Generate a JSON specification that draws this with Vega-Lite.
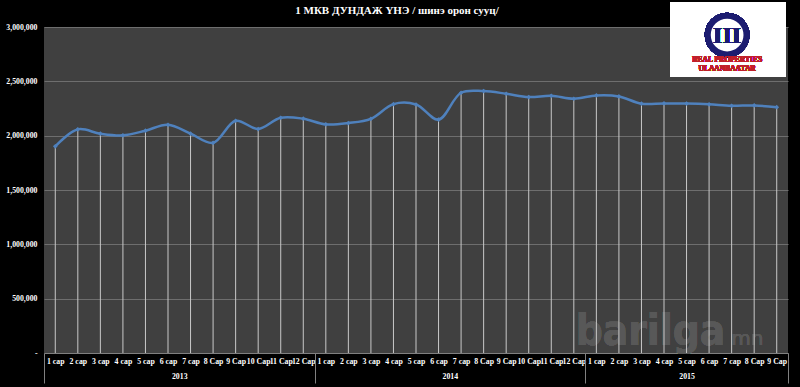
{
  "$schema": "https://vega.github.io/schema/vega-lite/v6.json",
  "width": 744,
  "height": 326,
  "autosize": {"type": "none"},
  "padding": {"left": 44, "top": 27, "right": 12, "bottom": 34},
  "background": "#000000",
  "title": {
    "text": "1 МКВ ДУНДАЖ ҮНЭ / шинэ орон сууц/",
    "font": "Liberation Serif",
    "fontSize": 11,
    "fontWeight": "bold",
    "color": "#ffffff",
    "anchor": "middle",
    "frame": "group",
    "dx": -19,
    "dy": 24,
    "offset": 10
  },
  "config": {
    "view": {"fill": "#404040", "stroke": null},
    "axis": {"labelFont": "Liberation Serif", "labelFontWeight": "bold", "labelColor": "#ffffff", "labelFontSize": 7.8, "title": null}
  },
  "data": {
    "values": [
      {"pos": 0.5, "month": "1 сар", "year": "2013", "value": 1902000},
      {"pos": 1.5, "month": "2 сар", "year": "2013", "value": 2058000},
      {"pos": 2.5, "month": "3 сар", "year": "2013", "value": 2018000},
      {"pos": 3.5, "month": "4 сар", "year": "2013", "value": 2003000},
      {"pos": 4.5, "month": "5 сар", "year": "2013", "value": 2046000},
      {"pos": 5.5, "month": "6 сар", "year": "2013", "value": 2100000},
      {"pos": 6.5, "month": "7 сар", "year": "2013", "value": 2018000},
      {"pos": 7.5, "month": "8 Сар", "year": "2013", "value": 1934000},
      {"pos": 8.5, "month": "9 Сар", "year": "2013", "value": 2137000},
      {"pos": 9.5, "month": "10 Сар", "year": "2013", "value": 2061000},
      {"pos": 10.5, "month": "11 Сар", "year": "2013", "value": 2165000},
      {"pos": 11.5, "month": "12 Сар", "year": "2013", "value": 2156000},
      {"pos": 12.5, "month": "1 сар", "year": "2014", "value": 2104000},
      {"pos": 13.5, "month": "2 сар", "year": "2014", "value": 2116000},
      {"pos": 14.5, "month": "3 сар", "year": "2014", "value": 2155000},
      {"pos": 15.5, "month": "4 сар", "year": "2014", "value": 2290000},
      {"pos": 16.5, "month": "5 сар", "year": "2014", "value": 2287000},
      {"pos": 17.5, "month": "6 сар", "year": "2014", "value": 2148000},
      {"pos": 18.5, "month": "7 сар", "year": "2014", "value": 2395000},
      {"pos": 19.5, "month": "8 Сар", "year": "2014", "value": 2410000},
      {"pos": 20.5, "month": "9 Сар", "year": "2014", "value": 2386000},
      {"pos": 21.5, "month": "10 Сар", "year": "2014", "value": 2355000},
      {"pos": 22.5, "month": "11 Сар", "year": "2014", "value": 2367000},
      {"pos": 23.5, "month": "12 Сар", "year": "2014", "value": 2340000},
      {"pos": 24.5, "month": "1 сар", "year": "2015", "value": 2370000},
      {"pos": 25.5, "month": "2 сар", "year": "2015", "value": 2361000},
      {"pos": 26.5, "month": "3 сар", "year": "2015", "value": 2294000},
      {"pos": 27.5, "month": "4 сар", "year": "2015", "value": 2297000},
      {"pos": 28.5, "month": "5 сар", "year": "2015", "value": 2295000},
      {"pos": 29.5, "month": "6 сар", "year": "2015", "value": 2288000},
      {"pos": 30.5, "month": "7 сар", "year": "2015", "value": 2275000},
      {"pos": 31.5, "month": "8 Сар", "year": "2015", "value": 2278000},
      {"pos": 32.5, "month": "9 Сар", "year": "2015", "value": 2262000}
    ]
  },
  "resolve": {"axis": {"x": "independent", "y": "independent"}},
  "layer": [
    {
      "mark": {"type": "text", "text": "barilga", "font": "DejaVu Sans Condensed", "fontWeight": "bold", "fontSize": 42, "fill": "#585858", "align": "center", "baseline": "alphabetic"},
      "encoding": {
        "x": {"datum": 26.9, "type": "quantitative", "axis": null},
        "y": {"datum": 75000, "type": "quantitative", "axis": null}
      }
    },
    {
      "mark": {"type": "text", "text": "mn", "font": "DejaVu Sans", "fontSize": 20, "fill": "#585858", "align": "center", "baseline": "alphabetic"},
      "encoding": {
        "x": {"datum": 31.2, "type": "quantitative", "axis": null},
        "y": {"datum": 75000, "type": "quantitative", "axis": null}
      }
    },
    {
      "mark": {"type": "rule", "color": "#c8c8c8", "strokeWidth": 1},
      "encoding": {
        "x": {
          "field": "pos", "type": "quantitative",
          "scale": {"domain": [0, 33], "nice": false, "zero": false},
          "axis": {
            "orient": "bottom",
            "values": [0.5,1.5,2.5,3.5,4.5,5.5,6.5,7.5,8.5,9.5,10.5,11.5,12.5,13.5,14.5,15.5,16.5,17.5,18.5,19.5,20.5,21.5,22.5,23.5,24.5,25.5,26.5,27.5,28.5,29.5,30.5,31.5,32.5],
            "labelExpr": "(floor(datum.value) % 12 + 1) + (floor(datum.value) % 12 >= 7 ? ' Сар' : ' сар')",
            "ticks": false, "grid": false, "domain": true, "domainColor": "#808080",
            "labelPadding": 4, "labelOverlap": false, "labelFlush": false, "labelBound": false
          }
        },
        "y": {
          "field": "value", "type": "quantitative",
          "scale": {"domain": [0, 3000000], "nice": false},
          "axis": {
            "orient": "left",
            "values": [0, 500000, 1000000, 1500000, 2000000, 2500000, 3000000],
            "labelExpr": "datum.value == 0 ? '-' : format(datum.value, ',')",
            "ticks": false, "domain": false, "grid": true, "gridColor": "#6e6e6e", "gridWidth": 1,
            "labelPadding": 7
          }
        },
        "y2": {"datum": 0}
      }
    },
    {
      "mark": {"type": "line", "color": "#4f81bd", "strokeWidth": 2.5, "interpolate": "catmull-rom"},
      "encoding": {
        "x": {
          "field": "pos", "type": "quantitative",
          "axis": {"orient": "bottom", "values": [0, 12, 24, 33], "labels": false, "domain": false, "grid": false, "ticks": true, "tickSize": 30, "tickColor": "#808080", "tickWidth": 1}
        },
        "y": {"field": "value", "type": "quantitative", "axis": null}
      }
    },
    {
      "mark": {"type": "point", "shape": "diamond", "filled": true, "color": "#4f81bd", "size": 22, "opacity": 1},
      "encoding": {
        "x": {
          "field": "pos", "type": "quantitative",
          "axis": {"orient": "bottom", "values": [6, 18, 28.5], "labelExpr": "datum.value < 12 ? '2013' : (datum.value < 24 ? '2014' : '2015')", "ticks": false, "domain": false, "grid": false, "labelPadding": 19, "labelFlush": false, "labelOverlap": false}
        },
        "y": {"field": "value", "type": "quantitative", "axis": null}
      }
    },
    {
      "mark": {"type": "rect", "fill": "#ffffff"},
      "encoding": {
        "x": {"datum": 27.77, "type": "quantitative", "axis": null},
        "x2": {"datum": 32.91},
        "y": {"datum": 3230000, "type": "quantitative", "axis": null},
        "y2": {"datum": 2540000}
      }
    },
    {
      "mark": {"type": "point", "shape": "circle", "filled": false, "stroke": "#1c1c70", "strokeWidth": 6, "fill": "#ffffff", "size": 1500, "opacity": 1},
      "encoding": {
        "x": {"datum": 30.3, "type": "quantitative", "axis": null},
        "y": {"datum": 2926000, "type": "quantitative", "axis": null}
      }
    },
    {
      "mark": {"type": "text", "text": "III", "font": "Liberation Serif", "fontWeight": "bold", "fontSize": 24, "fill": "#1c1c70", "align": "center", "baseline": "middle"},
      "encoding": {
        "x": {"datum": 30.3, "type": "quantitative", "axis": null},
        "y": {"datum": 2920000, "type": "quantitative", "axis": null}
      }
    },
    {
      "mark": {"type": "text", "text": "REAL PROPERTIES", "font": "Liberation Serif", "fontWeight": "bold", "fontSize": 7.5, "fill": "#c0202a", "align": "center", "baseline": "middle", "letterSpacing": 1.3},
      "encoding": {
        "x": {"datum": 30.3, "type": "quantitative", "axis": null},
        "y": {"datum": 2700000, "type": "quantitative", "axis": null}
      }
    },
    {
      "mark": {"type": "text", "text": "ULAANBAATAR", "font": "Liberation Serif", "fontWeight": "bold", "fontSize": 7.5, "fill": "#c0202a", "align": "center", "baseline": "middle", "letterSpacing": 3.5},
      "encoding": {
        "x": {"datum": 30.3, "type": "quantitative", "axis": null},
        "y": {"datum": 2614000, "type": "quantitative", "axis": null}
      }
    }
  ]
}
